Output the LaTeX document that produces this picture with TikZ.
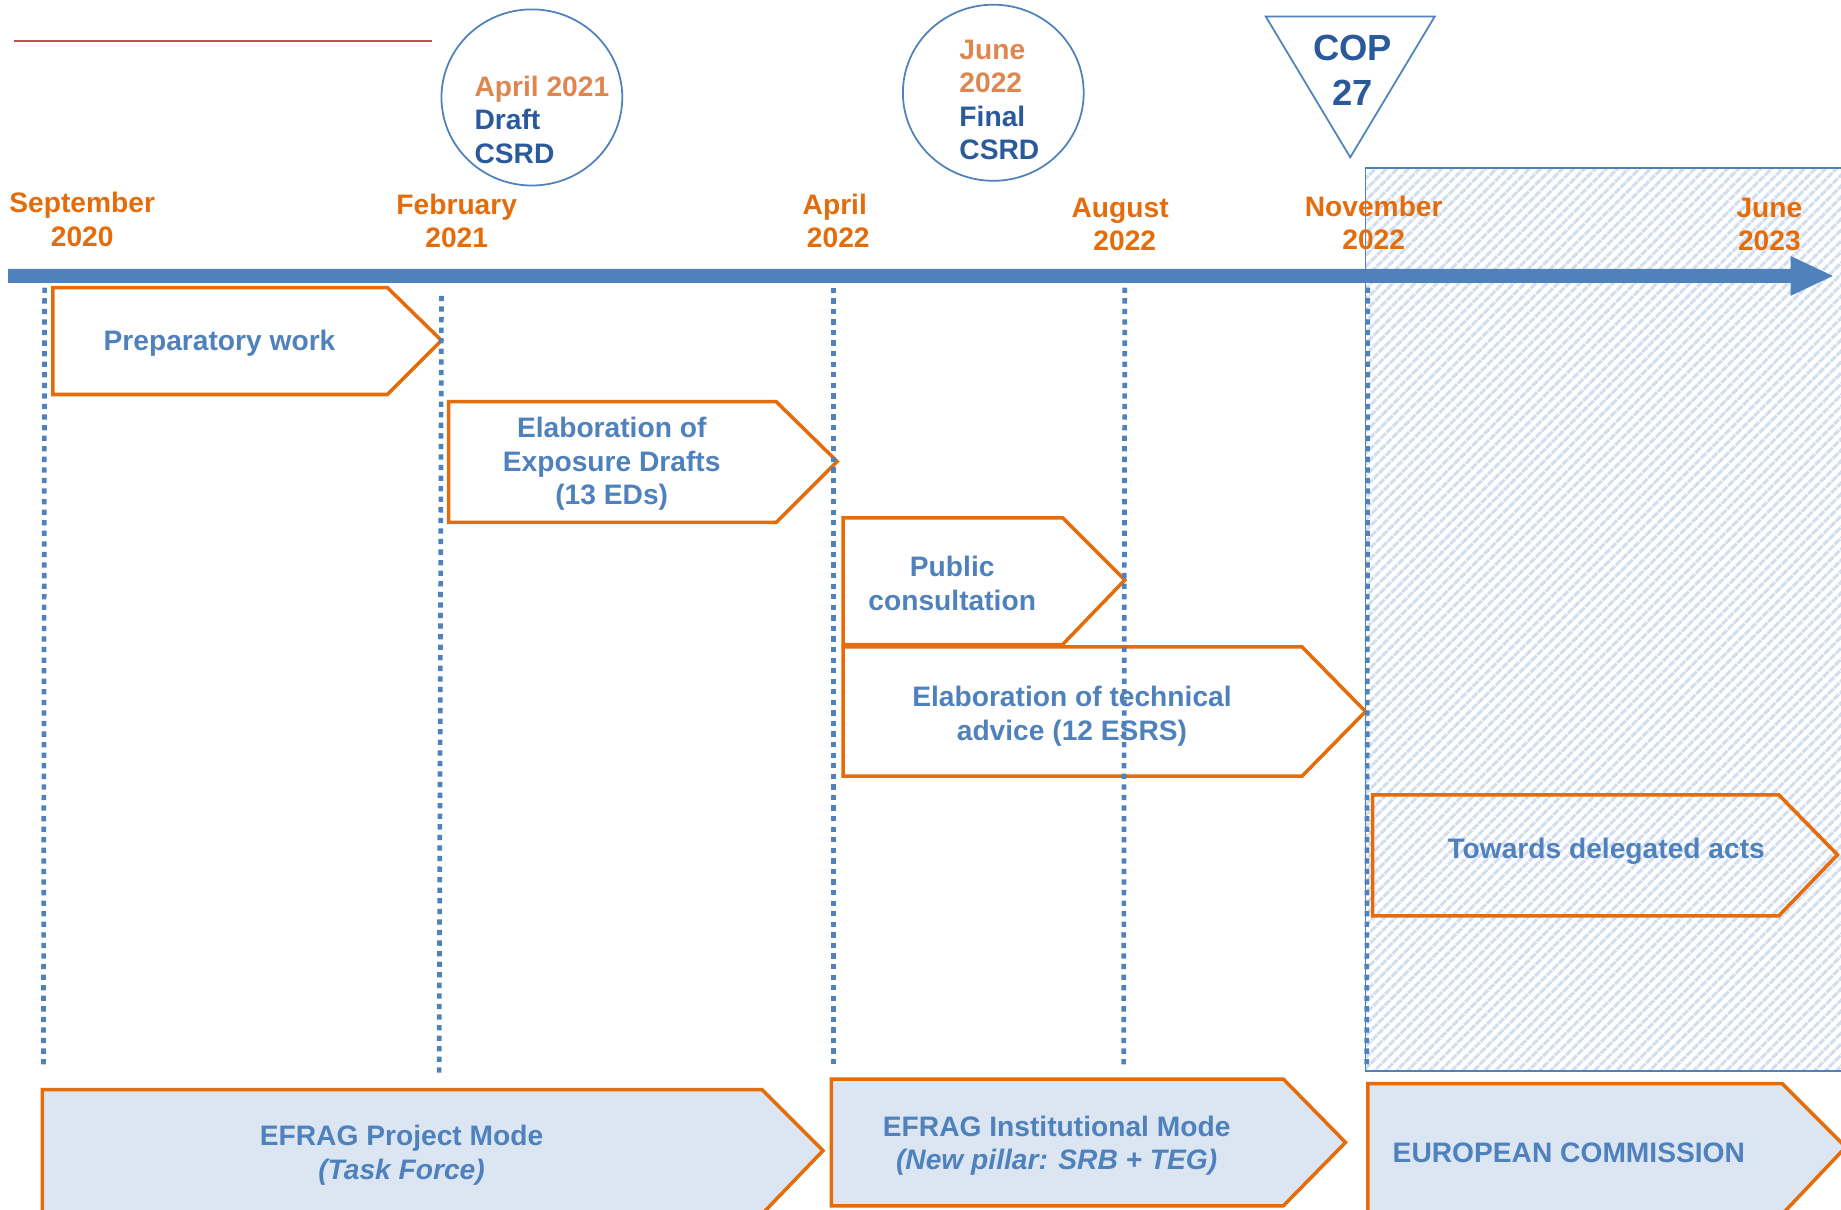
\documentclass[tikz,border=0pt]{standalone}
\usepackage{fontspec}
\setmainfont{Liberation Sans}
\usetikzlibrary{patterns.meta,shapes.geometric}
\definecolor{org}{HTML}{E46C0A}
\definecolor{orgl}{HTML}{DF8650}
\definecolor{dblue}{HTML}{2A5A9B}
\definecolor{mblue}{HTML}{4F81BD}
\definecolor{lfill}{HTML}{DCE6F2}
\definecolor{hatchc}{HTML}{D3DEEE}
\definecolor{redl}{HTML}{C0504D}
\begin{document}
\begin{tikzpicture}[x=1pt,y=-1pt,
 txt/.style={font=\fontsize{24}{28.5}\selectfont\bfseries, inner sep=0pt, align=center},
 datelbl/.style={txt, text=org},
 boxtxt/.style={txt, text=mblue},
 chev/.style={draw=org, line width=3pt, line join=miter},
 dline/.style={mblue, line width=4pt, dash pattern=on 4.5pt off 4.5pt},
 milestone/.style={draw=mblue, line width=1.5pt, ellipse, inner sep=0pt, minimum width=154pt, minimum height=150pt},
 ]
\useasboundingbox (0,0) rectangle (1568,1030);
\clip (0,0) rectangle (1568,1030);

% hatched region
\path[pattern={Lines[angle=45,distance=7.4pt,line width=3pt]}, pattern color=hatchc] (1163,143) rectangle (1600,912);
\draw[mblue, line width=1.5pt] (1600,143) -- (1163,143) -- (1163,912) -- (1600,912);

% red line
\coordinate (r1) at (12,35);
\coordinate (r2) at (368,35);
\draw[redl, line width=1.5pt] (r1) -- (r2);

% milestones
\node[milestone] (c1) at (453,83) {};
\node[txt, align=left, anchor=west] (c1t) at (404,102) {\textcolor{orgl}{April 2021}\\\textcolor{dblue}{Draft}\\\textcolor{dblue}{CSRD}};
\node[milestone] (c2) at (846,79) {};
\node[txt, align=left, anchor=west] (c2t) at (817,85) {\textcolor{orgl}{June}\\\textcolor{orgl}{2022}\\\textcolor{dblue}{Final}\\\textcolor{dblue}{CSRD}};
\draw[mblue, line width=1.5pt, line join=miter] (1078,14) -- (1222,14) -- (1150,134) -- cycle;
\node[txt, font=\fontsize{31}{38}\selectfont\bfseries, text=dblue] (cop) at (1152,60) {COP\\27};

% timeline
\fill[mblue] (7,229) -- (1525,229) -- (1525,218) -- (1561,235) -- (1525,252) -- (1525,241) -- (7,241) -- cycle;

% date labels
\node[datelbl] (d1) at (70,187) {September\\2020};
\node[datelbl] (d2) at (389,188) {February\\2021};
\node[datelbl] (d3) at (711,188) {April\\\hspace*{6pt}2022};
\node[datelbl] (d4) at (954,191) {August\\\hspace*{8pt}2022};
\node[datelbl] (d5) at (1170,190) {November\\2022};
\node[datelbl] (d6) at (1507,191) {June\\2023};

% activity chevrons
\draw[chev] (45,245) -- (330,245) -- (376,290) -- (330,336) -- (45,336) -- cycle;
\node[boxtxt] (a1) at (187,292) {Preparatory work};
\draw[chev] (382,342) -- (661,342) -- (713,393) -- (661,445) -- (382,445) -- cycle;
\node[boxtxt] (a2) at (521,395) {Elaboration of\\Exposure Drafts\\(13 EDs)};
\draw[chev] (718,441) -- (905,441) -- (958,494) -- (905,549) -- (718,549) -- cycle;
\node[boxtxt] (a3) at (811,497) {Public\\consultation};
\draw[chev] (718,551) -- (1109,551) -- (1163,606) -- (1109,661) -- (718,661) -- cycle;
\node[boxtxt] (a4) at (913,610) {Elaboration of technical\\advice (12 ESRS)};
\draw[chev] (1169,677) -- (1515,677) -- (1565,728) -- (1515,780) -- (1169,780) -- cycle;
\node[boxtxt] (a5) at (1368,725) {Towards delegated acts};

% dotted date lines
\draw[dline] (38,245) -- (37,910);
\draw[dline] (376,252) -- (374,915);
\draw[dline] (710,245) -- (710,910);
\draw[dline] (958,245) -- (957,910);
\draw[dline] (1165,245) -- (1164,910);

% bottom phase chevrons
\draw[chev, fill=lfill] (36,928) -- (649,928) -- (701,980) -- (649,1034) -- (36,1034) -- cycle;
\node[boxtxt] (p1) at (342,984) {EFRAG Project Mode\\\textit{(Task Force)}};
\draw[chev, fill=lfill] (708,919) -- (1093,919) -- (1146,973) -- (1093,1027) -- (708,1027) -- cycle;
\node[boxtxt] (p2) at (900,976) {EFRAG Institutional Mode\\\textit{(New pillar: SRB + TEG)}};
\draw[chev, fill=lfill] (1165,923) -- (1518,923) -- (1572,977) -- (1518,1034) -- (1165,1034) -- cycle;
\node[boxtxt, anchor=west] (p3) at (1186,982) {EUROPEAN COMMISSION};
\end{tikzpicture}
\end{document}
